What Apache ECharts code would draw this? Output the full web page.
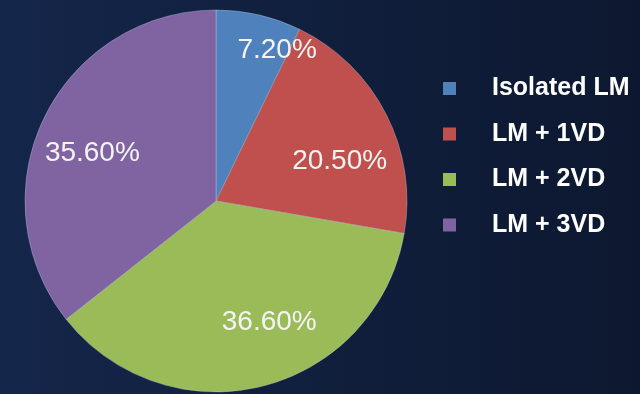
<!DOCTYPE html>
<html>
<head>
<meta charset="utf-8">
<script src="https://cdn.jsdelivr.net/npm/echarts@6/dist/echarts.min.js"></script>
<style>
  html, body { margin: 0; padding: 0; background: #0f1c37; }
  #chart { width: 640px; height: 394px; }
</style>
</head>
<body>
<div id="chart"></div>
<script>
// Data
const categories = ['Isolated LM', 'LM + 1VD', 'LM + 2VD', 'LM + 3VD'];
const values = [7.2, 20.5, 36.6, 35.6];
const labelTexts = ['7.20%', '20.50%', '36.60%', '35.60%'];

// Styling
const colors = ['#4f81bd', '#c0504d', '#9bbb59', '#8064a2'];
const labelOffsets = [[39, -55], [36, 5], [29, 26], [-35, -5]];

const chart = echarts.init(document.getElementById('chart'), null, { renderer: 'canvas' });

const pieData = categories.map((name, i) => ({
  name: name,
  value: values[i],
  itemStyle: { color: colors[i] },
  label: { offset: labelOffsets[i], formatter: labelTexts[i] }
}));

chart.setOption({
  backgroundColor: {
    type: 'linear', x: 0, y: 0, x2: 1, y2: 0,
    colorStops: [
      { offset: 0, color: '#14264a' },
      { offset: 1, color: '#0d1830' }
    ]
  },
  animation: false,
  legend: {
    orient: 'vertical',
    left: 438,
    top: 71,
    itemWidth: 13,
    itemHeight: 13,
    itemGap: 20.5,
    icon: 'rect',
    itemStyle: { borderWidth: 0 },
    data: categories,
    textStyle: {
      color: '#ffffff',
      fontFamily: 'Liberation Sans, Arial, sans-serif',
      fontWeight: 'bold',
      fontSize: 25,
      lineHeight: 25,
      padding: [0, 0, 0, 31]
    }
  },
  series: [{
    type: 'pie',
    center: [216, 201],
    radius: [0, 191],
    startAngle: 90,
    clockwise: true,
    silent: true,
    itemStyle: { borderColor: 'rgba(200,210,230,0.35)', borderWidth: 1 },
    label: {
      show: true,
      position: 'inside',
      color: '#f4f4f4',
      fontFamily: 'Liberation Sans, Arial, sans-serif',
      fontSize: 28
    },
    labelLine: { show: false },
    data: pieData
  }]
});
</script>
</body>
</html>
